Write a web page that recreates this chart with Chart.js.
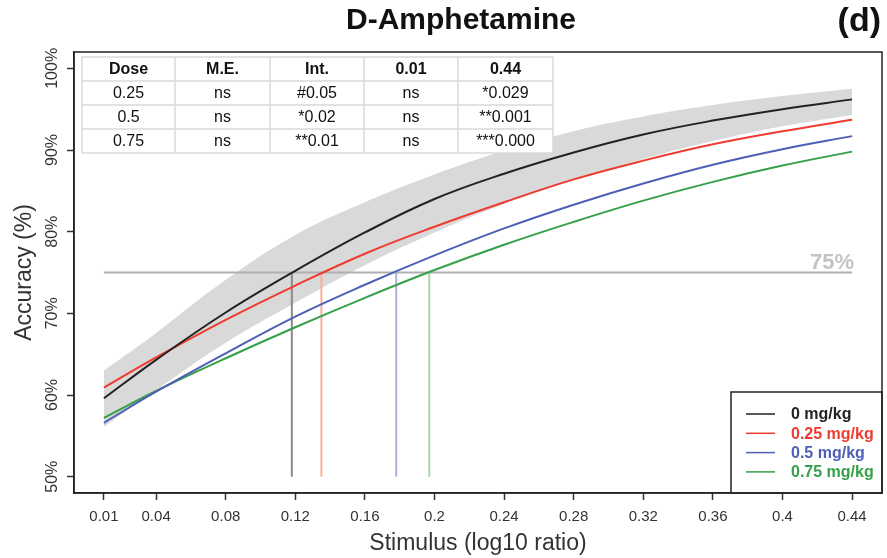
<!DOCTYPE html>
<html>
<head>
<meta charset="utf-8">
<script src="https://cdn.jsdelivr.net/npm/chart.js@4.4.1/dist/chart.umd.min.js"></script>
<style>
  html, body { margin: 0; padding: 0; background: #fff; }
  #wrap { width: 887px; height: 558px; }
</style>
</head>
<body>
<div id="wrap"><canvas id="grafica"></canvas></div>
<script>
// valores
const stimulus = [0.01, 0.04, 0.08, 0.12, 0.16, 0.20, 0.24, 0.28, 0.32, 0.36, 0.40, 0.44];
const acc0mg   = [59.6, 64.3, 70.1, 75.2, 79.9, 84.0, 87.1, 89.7, 91.9, 93.6, 95.0, 96.2];
const acc025mg = [60.9, 64.6, 69.2, 73.4, 77.3, 80.6, 83.6, 86.4, 88.7, 90.7, 92.3, 93.7];
const acc05mg  = [56.6, 60.4, 65.1, 69.6, 73.5, 77.1, 80.4, 83.3, 85.9, 88.2, 90.1, 91.7];
const acc075mg = [57.2, 60.5, 64.5, 68.3, 71.9, 75.3, 78.4, 81.2, 83.8, 86.1, 88.1, 89.8];
const ciUpper  = [63.0, 67.6, 74.1, 79.6, 83.6, 87.0, 89.9, 92.3, 94.1, 95.5, 96.6, 97.5];
const ciLower  = [56.1, 60.6, 66.4, 71.3, 75.9, 79.9, 83.4, 86.3, 88.9, 91.1, 92.9, 94.3];

const doseLabels = ["0 mg/kg", "0.25 mg/kg", "0.5 mg/kg", "0.75 mg/kg"];
const threshold75 = [0.118, 0.135, 0.178, 0.197];   // stimulus at 75%

const xTicks = [0.01, 0.04, 0.08, 0.12, 0.16, 0.20, 0.24, 0.28, 0.32, 0.36, 0.40, 0.44];
const xTickLabels = ["0.01", "0.04", "0.08", "0.12", "0.16", "0.2", "0.24", "0.28", "0.32", "0.36", "0.4", "0.44"];
const yTicks = [50, 60, 70, 80, 90, 100];

const tableHeader = ["Dose", "M.E.", "Int.", "0.01", "0.44"];
const tableRows = [
    ["0.25", "ns", "#0.05", "ns", "*0.029"],
    ["0.5", "ns", "*0.02", "ns", "**0.001"],
    ["0.75", "ns", "**0.01", "ns", "***0.000"]
];

const lineColors = ["#222222", "#ef3b2f", "#4e5fb5", "#35a048"];
const dropColors = ["#8a8a8a", "#f5b098", "#aab1de", "#a8d6ad"];

const FONT = '"Liberation Sans", Arial, sans-serif';

const pts = (ys) => stimulus.map((x, i) => ({ x: x, y: ys[i] }));

const series = [acc0mg, acc025mg, acc05mg, acc075mg];
const datasets = [];

series.forEach((ys, i) => {
    datasets.push({
        label: doseLabels[i],
        data: pts(ys),
        borderColor: lineColors[i],
        borderWidth: 2,
        pointRadius: 0,
        tension: 0.4,
        fill: false,
        order: 0
    });
});

threshold75.forEach((t, i) => {
    datasets.push({
        label: "drop" + i,
        data: [{ x: t, y: 50 }, { x: t, y: 75 }],
        borderColor: dropColors[i],
        borderWidth: 2,
        pointRadius: 0,
        fill: false,
        order: 1
    });
});

datasets.push({
    label: "75%",
    data: [{ x: xTicks[0], y: 75 }, { x: xTicks[xTicks.length - 1], y: 75 }],
    borderColor: "#b0b0b0",
    borderWidth: 2,
    pointRadius: 0,
    fill: false,
    order: 2
});

datasets.push({
    label: "ciUpper",
    data: pts(ciUpper),
    borderWidth: 0,
    borderColor: "rgba(0,0,0,0)",
    backgroundColor: "#d9d9d9",
    pointRadius: 0,
    tension: 0.4,
    fill: "+1",
    order: 3
});
datasets.push({
    label: "ciLower",
    data: pts(ciLower),
    borderWidth: 0,
    borderColor: "rgba(0,0,0,0)",
    pointRadius: 0,
    tension: 0.4,
    fill: false,
    order: 3
});

// titulo, tabla, leyenda y marco
const extras = {
    id: "extras",
    afterDraw(chart) {
        const ctx = chart.ctx;
        const a = chart.chartArea;
        const xs = chart.scales.x;
        ctx.save();

        ctx.fillStyle = "#111";
        ctx.textBaseline = "middle";
        ctx.textAlign = "center";
        ctx.font = "bold 30px " + FONT;
        ctx.fillText("D-Amphetamine", 461, 21);
        ctx.textAlign = "right";
        ctx.font = "bold 34px " + FONT;
        ctx.fillText("(d)", 881, 22);

        // 75% label
        ctx.fillStyle = "#c4c4c4";
        ctx.font = "bold 22px " + FONT;
        ctx.textAlign = "right";
        ctx.textBaseline = "alphabetic";
        ctx.fillText("75%", xs.getPixelForValue(0.44) + 2, chart.scales.y.getPixelForValue(75) - 4);

        // tabla
        const colX = [82, 175, 270, 364, 458, 553];
        const rowY = [57, 81, 105, 129, 153];
        ctx.fillStyle = "#fff";
        ctx.fillRect(colX[0], rowY[0], colX[5] - colX[0], rowY[4] - rowY[0]);
        ctx.strokeStyle = "#d9d9d9";
        ctx.lineWidth = 1.5;
        colX.forEach(x => { ctx.beginPath(); ctx.moveTo(x, rowY[0]); ctx.lineTo(x, rowY[4]); ctx.stroke(); });
        rowY.forEach(y => { ctx.beginPath(); ctx.moveTo(colX[0], y); ctx.lineTo(colX[5], y); ctx.stroke(); });
        ctx.fillStyle = "#111";
        ctx.textAlign = "center";
        ctx.textBaseline = "middle";
        const allRows = [tableHeader].concat(tableRows);
        allRows.forEach((row, r) => {
            ctx.font = (r === 0 ? "bold " : "") + "16px " + FONT;
            row.forEach((txt, c) => {
                ctx.fillText(txt, (colX[c] + colX[c + 1]) / 2, (rowY[r] + rowY[r + 1]) / 2 + 1);
            });
        });

        // leyenda
        const lx = 731, ly = 392;
        ctx.fillStyle = "#fff";
        ctx.fillRect(lx, ly, a.right - lx, a.bottom - ly);
        ctx.strokeStyle = "#222";
        ctx.lineWidth = 1.5;
        ctx.strokeRect(lx, ly, a.right - lx, a.bottom - ly);
        ctx.textAlign = "left";
        ctx.font = "bold 16px " + FONT;
        doseLabels.forEach((lab, i) => {
            const y = 414 + i * 19.3;
            ctx.strokeStyle = lineColors[i];
            ctx.lineWidth = 1.5;
            ctx.beginPath(); ctx.moveTo(746, y); ctx.lineTo(775, y); ctx.stroke();
            ctx.fillStyle = lineColors[i];
            ctx.fillText(lab, 791, y + 1);
        });

        // marco
        ctx.strokeStyle = "#222";
        ctx.lineWidth = 1.5;
        ctx.strokeRect(a.left, a.top, a.right - a.left, a.bottom - a.top);
        ctx.restore();
    }
};

new Chart(document.getElementById("grafica"), {
    type: "line",
    data: { datasets: datasets },
    options: {
        responsive: true,
        maintainAspectRatio: false,
        animation: false,
        layout: { padding: { top: 52, right: 5, left: 0, bottom: 0 } },
        plugins: {
            legend: { display: false },
            tooltip: { enabled: false },
            title: { display: false }
        },
        scales: {
            x: {
                type: "linear",
                min: -0.0072,
                max: 0.4572,
                afterBuildTicks: (s) => { s.ticks = xTicks.map(v => ({ value: v })); },
                afterFit: (s) => { s.height = 65; },
                ticks: {
                    callback: (v, i) => xTickLabels[i],
                    color: "#333",
                    font: { family: FONT, size: 15 },
                    padding: 8,
                    maxRotation: 0,
                    autoSkip: false
                },
                grid: { drawOnChartArea: false, tickLength: 7, tickColor: "#333", tickWidth: 1.5 },
                border: { display: true, color: "#222", width: 1.5 },
                title: {
                    display: true,
                    text: "Stimulus (log10 ratio)",
                    color: "#333",
                    font: { family: FONT, size: 23 },
                    padding: { top: 0, bottom: 1 }
                }
            },
            y: {
                type: "linear",
                min: 48,
                max: 102,
                afterBuildTicks: (s) => { s.ticks = yTicks.map(v => ({ value: v })); },
                afterFit: (s) => { s.width = 74; },
                ticks: {
                    callback: (v) => v + "%",
                    color: "#333",
                    font: { family: FONT, size: 16 },
                    minRotation: 90,
                    maxRotation: 90,
                    crossAlign: "center",
                    padding: -6
                },
                grid: { drawOnChartArea: false, tickLength: 7, tickColor: "#333", tickWidth: 1.5 },
                border: { display: true, color: "#222", width: 1.5 },
                title: {
                    display: true,
                    text: "Accuracy (%)",
                    color: "#333",
                    font: { family: FONT, size: 23 },
                    padding: { top: 11, bottom: 0 }
                }
            }
        }
    },
    plugins: [extras]
});
</script>
</body>
</html>
